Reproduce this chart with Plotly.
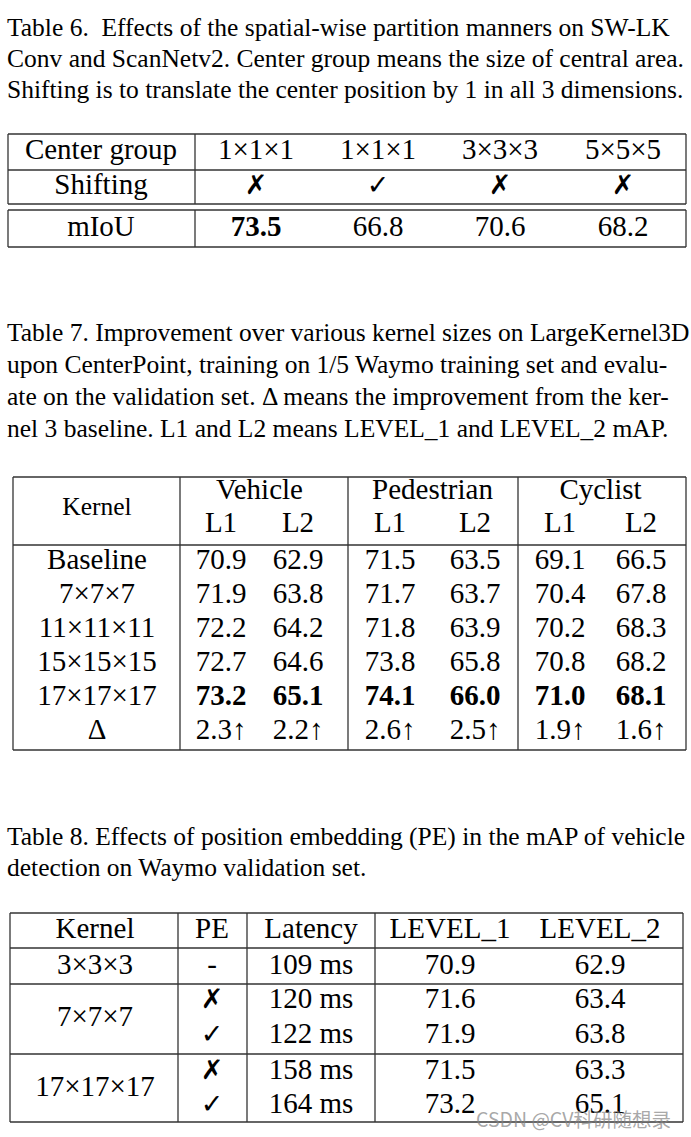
import plotly.graph_objects as go

# ---------------- data ----------------
cap6 = ["Table 6.  Effects of the spatial-wise partition manners on SW-LK",
        "Conv and ScanNetv2. Center group means the size of central area.",
        "Shifting is to translate the center position by 1 in all 3 dimensions."]
t6_row_labels = ["Center group", "Shifting", "mIoU"]
t6_center = ["1×1×1", "1×1×1", "3×3×3", "5×5×5"]
t6_shift = ["✗", "✓", "✗", "✗"]
t6_miou = [73.5, 66.8, 70.6, 68.2]
t6_best = 0

cap7 = ["Table 7. Improvement over various kernel sizes on LargeKernel3D",
        "upon CenterPoint, training on 1/5 Waymo training set and evalu-",
        "ate on the validation set. Δ means the improvement from the ker-",
        "nel 3 baseline. L1 and L2 means LEVEL_1 and LEVEL_2 mAP."]
t7_groups = ["Vehicle", "Pedestrian", "Cyclist"]
t7_sub = ["L1", "L2", "L1", "L2", "L1", "L2"]
t7_kernels = ["Baseline", "7×7×7", "11×11×11", "15×15×15", "17×17×17"]
t7_values = [
    [70.9, 62.9, 71.5, 63.5, 69.1, 66.5],
    [71.9, 63.8, 71.7, 63.7, 70.4, 67.8],
    [72.2, 64.2, 71.8, 63.9, 70.2, 68.3],
    [72.7, 64.6, 73.8, 65.8, 70.8, 68.2],
    [73.2, 65.1, 74.1, 66.0, 71.0, 68.1],
]
t7_delta = [2.3, 2.2, 2.6, 2.5, 1.9, 1.6]
t7_best_row = 4

cap8 = ["Table 8. Effects of position embedding (PE) in the mAP of vehicle",
        "detection on Waymo validation set."]
t8_header = ["Kernel", "PE", "Latency", "LEVEL_1", "LEVEL_2"]
t8_kernel_groups = ["3×3×3", "7×7×7", "17×17×17"]
t8_group_rows = [[0], [1, 2], [3, 4]]
t8_pe = ["-", "✗", "✓", "✗", "✓"]
t8_latency = [109, 120, 122, 158, 164]
t8_level1 = [70.9, 71.6, 71.9, 71.5, 73.2]
t8_level2 = [62.9, 63.4, 63.8, 63.3, 65.1]

watermark = "CSDN @CV科研随想录"

# ---------------- layout constants ----------------
W, H = 691, 1137
SERIF = "Liberation Serif, Times New Roman, serif"
CAP_SIZE = 25.5
CELL_SIZE = 29
LINE_COLOR = "#333333"
LW = 1.3
MARK_FONT = "DejaVu Sans"
MARK_SIZE = 27

fig = go.Figure()
shapes = []
annotations = []


def hline(x0, x1, y):
    shapes.append(dict(type="line", xref="x", yref="y", x0=x0, x1=x1, y0=y, y1=y,
                       line=dict(color=LINE_COLOR, width=LW)))


def vline(x, y0, y1):
    shapes.append(dict(type="line", xref="x", yref="y", x0=x, x1=x, y0=y0, y1=y1,
                       line=dict(color=LINE_COLOR, width=LW)))


def cells(xs, ys, texts, size=CELL_SIZE, family=SERIF):
    fig.add_trace(go.Scatter(x=xs, y=ys, text=texts, mode="text",
                             textposition="middle center",
                             textfont=dict(family=family, size=size, color="black"),
                             hoverinfo="skip", showlegend=False))


def caption(lines, x0, y0, dy):
    for i, ln in enumerate(lines):
        annotations.append(dict(x=x0, y=y0 + i * dy, xref="x", yref="y", text=ln,
                                showarrow=False, xanchor="left", yanchor="middle",
                                font=dict(family=SERIF, size=CAP_SIZE, color="black")))


def bold(s):
    return "<b>%s</b>" % s


# ---------------- Table 6 ----------------
caption(cap6, 5, 27, 31)
t6_left, t6_right, t6_div = 8, 686, 195
t6_top, t6_mid, t6_bot = 134, 170, 204
t6_top2, t6_bot2 = 210, 247
t6_cols = [256, 378, 500, 623]
t6_rows = [152, 187, 229]
t6_label_x = 101
for y0, y1 in [(t6_top, t6_bot), (t6_top2, t6_bot2)]:
    hline(t6_left, t6_right, y0)
    hline(t6_left, t6_right, y1)
    vline(t6_left, y0, y1)
    vline(t6_right, y0, y1)
    vline(t6_div, y0, y1)
hline(t6_left, t6_right, t6_mid)
cells([t6_label_x] * 3, t6_rows, t6_row_labels)
cells(t6_cols, [t6_rows[0]] * 4, t6_center)
cells(t6_cols, [t6_rows[1]] * 4, [bold(m) for m in t6_shift], size=MARK_SIZE, family=MARK_FONT)
cells(t6_cols, [t6_rows[2]] * 4,
      [bold("%.1f" % v) if i == t6_best else "%.1f" % v for i, v in enumerate(t6_miou)])

# ---------------- Table 7 ----------------
caption(cap7, 5, 332, 32)
t7_left, t7_right = 13, 686
t7_top, t7_head, t7_bot = 477, 545, 750
t7_divs = [180, 348, 518]
t7_cols = [221, 298, 390, 475, 560, 641]
t7_group_y, t7_sub_y = 492, 525
t7_row0, t7_dy = 562, 34
t7_label_x = 97
hline(t7_left, t7_right, t7_top)
hline(t7_left, t7_right, t7_head)
hline(t7_left, t7_right, t7_bot)
for x in [t7_left, t7_right] + t7_divs:
    vline(x, t7_top, t7_bot)
cells([t7_label_x], [(t7_group_y + t7_sub_y) / 2], ["Kernel"], size=25.5)
gx = [(t7_cols[2 * i] + t7_cols[2 * i + 1]) / 2 for i in range(3)]
cells(gx, [t7_group_y] * 3, t7_groups)
cells(t7_cols, [t7_sub_y] * 6, t7_sub)
row_labels = t7_kernels + ["Δ"]
cells([t7_label_x] * len(row_labels), [t7_row0 + i * t7_dy for i in range(len(row_labels))], row_labels)
for r, vals in enumerate(t7_values):
    cells(t7_cols, [t7_row0 + r * t7_dy] * 6,
          [bold("%.1f" % v) if r == t7_best_row else "%.1f" % v for v in vals])
cells(t7_cols, [t7_row0 + len(t7_values) * t7_dy] * 6, ["%.1f↑" % v for v in t7_delta])

# ---------------- Table 8 ----------------
caption(cap8, 5, 836, 31)
t8_left, t8_right = 10, 683
t8_top, t8_bot = 913, 1122
t8_hlines = [948, 984, 1054]
t8_divs = [178, 247, 375]
t8_cols = [95, 212, 311, 450, 600]
t8_head_y = 931
t8_rows = [967, 1001, 1036, 1072, 1106]
hline(t8_left, t8_right, t8_top)
hline(t8_left, t8_right, t8_bot)
for y in t8_hlines:
    hline(t8_left, t8_right, y)
for x in [t8_left, t8_right] + t8_divs:
    vline(x, t8_top, t8_bot)
cells(t8_cols, [t8_head_y] * 5, t8_header)
cells([t8_cols[0]] * 3,
      [sum(t8_rows[i] for i in g) / len(g) for g in t8_group_rows], t8_kernel_groups)
pe_marks = [i for i, p in enumerate(t8_pe) if p != "-"]
cells([t8_cols[1]] * len(pe_marks), [t8_rows[i] for i in pe_marks],
      [bold(t8_pe[i]) for i in pe_marks], size=MARK_SIZE, family=MARK_FONT)
cells([t8_cols[1]], [t8_rows[0]], ["-"])
cells([t8_cols[2]] * 5, t8_rows, ["%d ms" % v for v in t8_latency])
cells([t8_cols[3]] * 5, t8_rows, ["%.1f" % v for v in t8_level1])
cells([t8_cols[4]] * 5, t8_rows, ["%.1f" % v for v in t8_level2])

# watermark
annotations.append(dict(x=673, y=1118, xref="x", yref="y", text=watermark, showarrow=False,
                        xanchor="right", yanchor="middle",
                        font=dict(family="Noto Sans CJK SC, Noto Sans", size=19.5,
                                  color="rgba(130,130,130,0.7)")))

fig.update_layout(
    width=W, height=H, autosize=False,
    margin=dict(l=0, r=0, t=0, b=0),
    paper_bgcolor="white", plot_bgcolor="white",
    xaxis=dict(range=[0, W], visible=False, fixedrange=True),
    yaxis=dict(range=[H, 0], visible=False, fixedrange=True),
    shapes=shapes, annotations=annotations, showlegend=False,
)
fig.write_html("out.html", config={"displayModeBar": False},
               post_script="document.body.style.margin='0';document.body.style.overflow='hidden';")
